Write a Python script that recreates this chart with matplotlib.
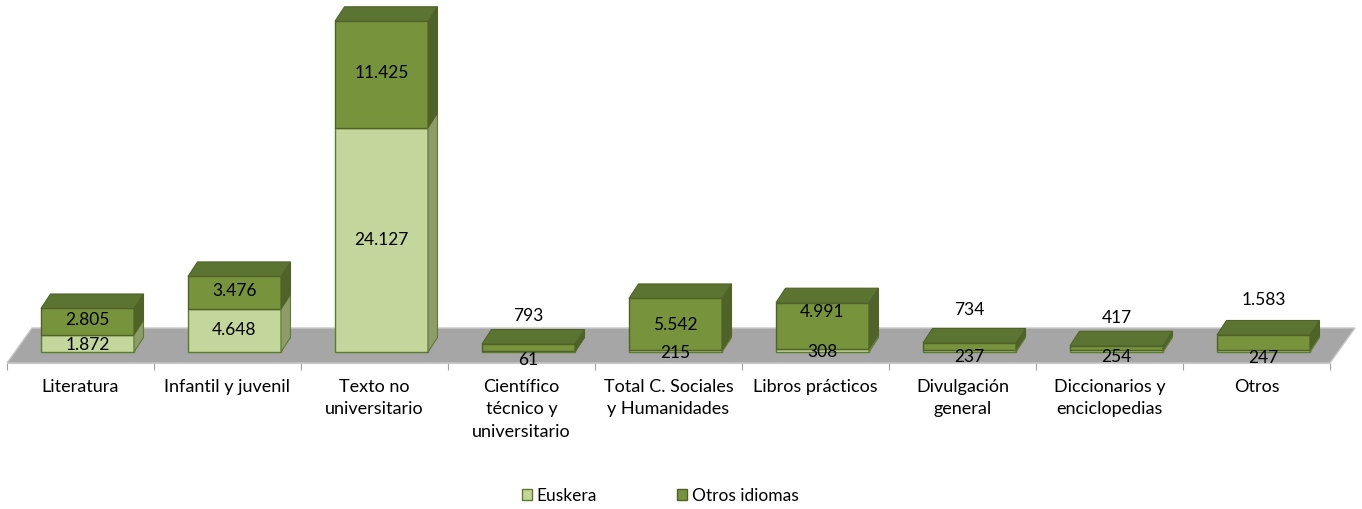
import matplotlib
matplotlib.use("Agg")
import matplotlib.pyplot as plt
from matplotlib.patches import Polygon, Patch

plt.rcParams["font.family"] = ["Lato", "DejaVu Sans"]

# data
categories = ["Literatura", "Infantil y juvenil", "Texto no\nuniversitario",
              "Científico\ntécnico y\nuniversitario", "Total C. Sociales\ny Humanidades",
              "Libros prácticos", "Divulgación\ngeneral", "Diccionarios y\nenciclopedias",
              "Otros"]
euskera = [1872, 4648, 24127, 61, 215, 308, 237, 254, 247]
otros = [2805, 3476, 11425, 793, 5542, 4991, 734, 417, 1583]
series_names = ["Euskera", "Otros idiomas"]

# label nudges (pixels, up positive) to follow the original placement
nudge_eus = [-2, 0, 0, -8, -2, -1.5, -6, -6, -7]
nudge_otr = [1.5, 1.5, 1.5, 32, -1, 14, 36, 30, 42]

light, light_side = "#C3D69B", "#8D9C68"
dark, dark_side, dark_top = "#77933C", "#4F6228", "#5C7431"
edge = "#5E7A2E"

fig = plt.figure(figsize=(13.62, 5.09), dpi=100)
W, H = 1362, 509
ax = fig.add_axes([7 / W, (H - 363) / H, 1323 / W, 358 / H])
ax.set_xlim(-0.5, len(categories) - 0.5)
ax.set_ylim(-11 * 107.5, 347 * 107.5)

# pixel -> data conversion
p0 = ax.transData.transform((0, 0))
p1 = ax.transData.transform((1, 1000))
ux = 1.0 / (p1[0] - p0[0])
uy = 1000.0 / (p1[1] - p0[1])

ylo = ax.get_ylim()[0]
xl, xr = ax.get_xlim()

# grey floor
fdx, fdy = 25 * ux, 35 * uy
floor = Polygon([(xl, ylo), (xr, ylo), (xr + fdx, ylo + fdy), (xl + fdx, ylo + fdy)],
                closed=True, facecolor="#A6A6A6", edgecolor="#C8C8C8", lw=1,
                clip_on=False, zorder=0)
ax.add_patch(floor)

# bars with depth
dx, dy = 9.5 * ux, 14.5 * uy
shift = 7 * ux
width = 93 * ux
xs = [i + shift for i in range(len(categories))]

ax.bar(xs, euskera, width, color=light, edgecolor=edge, lw=1, zorder=2)
ax.bar(xs, otros, width, bottom=euskera, color=dark, edgecolor=dark_side, lw=1, zorder=2)

fmt = lambda v: f"{v:,}".replace(",", ".")
for i, x in enumerate(xs):
    r = x + width / 2
    l = x - width / 2
    e, o = euskera[i], otros[i]
    top = e + o
    ax.add_patch(Polygon([(r, 0), (r + dx, dy), (r + dx, e + dy), (r, e)],
                         facecolor=light_side, edgecolor=edge, lw=0.8, zorder=2))
    ax.add_patch(Polygon([(r, e), (r + dx, e + dy), (r + dx, top + dy), (r, top)],
                         facecolor=dark_side, edgecolor=dark_side, lw=0.8, zorder=2))
    ax.add_patch(Polygon([(l, top), (l + dx, top + dy), (r + dx, top + dy), (r, top)],
                         facecolor=dark_top, edgecolor=dark_side, lw=0.8, zorder=2))

    ax.annotate(fmt(e), (x, e / 2), xytext=(0, nudge_eus[i] * 0.72),
                textcoords="offset points", ha="center", va="center",
                fontsize=12.5, zorder=5)
    ax.annotate(fmt(o), (x, e + o / 2), xytext=(0, nudge_otr[i] * 0.72),
                textcoords="offset points", ha="center", va="center",
                fontsize=12.5, zorder=5)

# axis: ticks at category borders, labels at centers
for s in ["top", "right", "left"]:
    ax.spines[s].set_visible(False)
ax.spines["bottom"].set_color("#C8C8C8")
ax.set_yticks([])
ax.set_xticks([i - 0.5 for i in range(len(categories) + 1)])
ax.set_xticklabels([])
ax.tick_params(axis="x", which="major", length=5, color="#A0A0A0")
ax.set_xticks(range(len(categories)), minor=True)
ax.set_xticklabels(categories, minor=True, fontsize=13, linespacing=1.5)
ax.tick_params(axis="x", which="minor", length=0, pad=11.5)

handles = [Patch(facecolor=light, edgecolor=edge, lw=1),
           Patch(facecolor=dark, edgecolor=dark_side, lw=1)]
fig.legend(handles, series_names, loc="center", bbox_to_anchor=(660 / W, 1 - 496 / H),
           ncol=2, frameon=False, fontsize=12.5, handlelength=0.6, handleheight=0.6,
           handletextpad=0.25, columnspacing=4.6)

fig.savefig("out.png", dpi=100)
